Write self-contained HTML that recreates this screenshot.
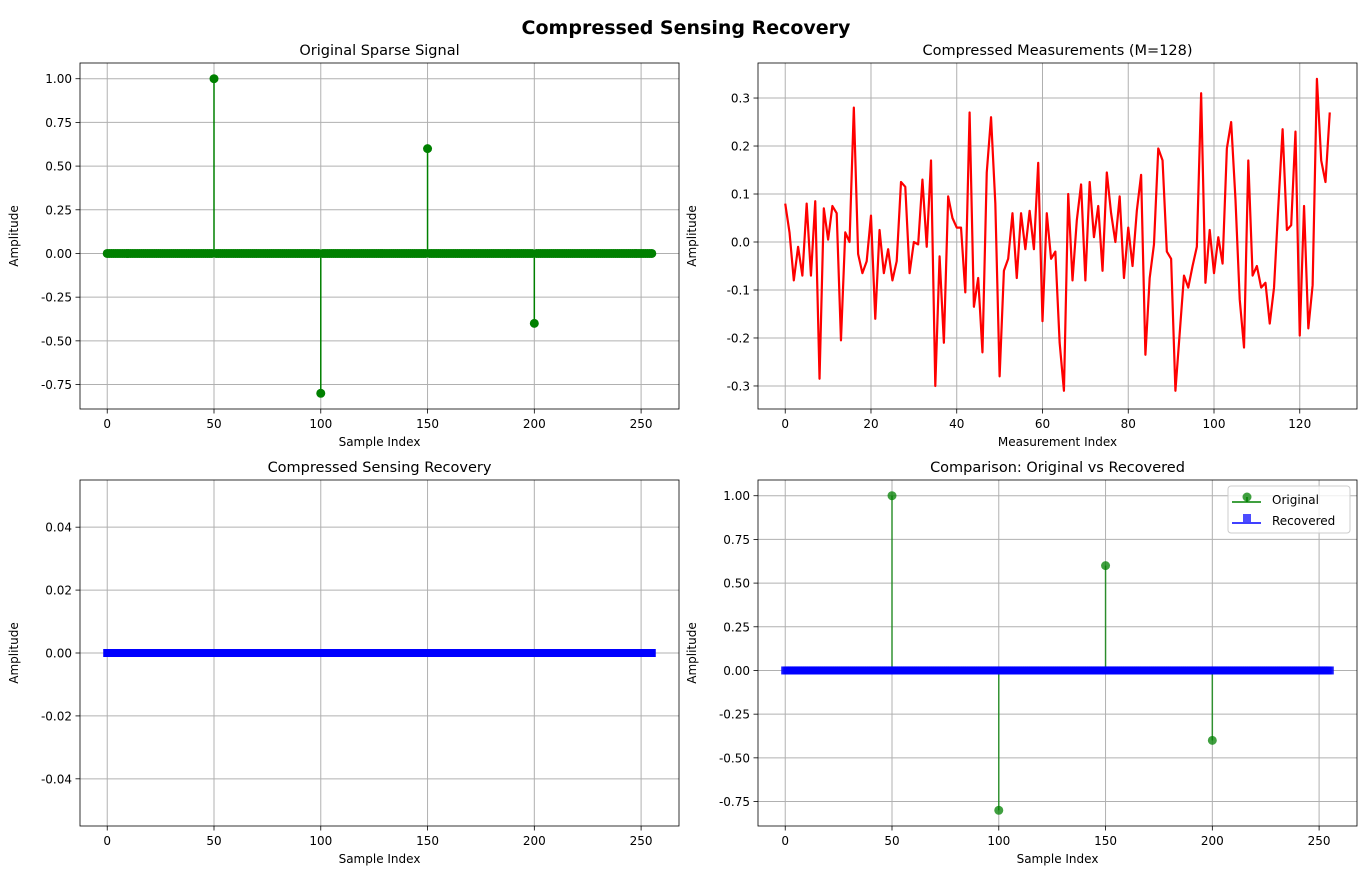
<!DOCTYPE html>
<html><head><meta charset="utf-8"><style>
body{margin:0;background:#fff;}
svg{display:block;font-family:"DejaVu Sans","Liberation Sans",sans-serif;}
</style></head><body>
<svg id="fig" width="1371" height="877" viewBox="0 0 1371 877" xmlns="http://www.w3.org/2000/svg">
<rect width="1371" height="877" fill="#fff"/>
<text x="686" y="34" text-anchor="middle" font-size="19" font-weight="bold">Compressed Sensing Recovery</text>
</svg>
<script>
const originalIdx = [50, 100, 150, 200];
const originalVals = [1.0, -0.8, 0.6, -0.4];
const signalLength = 256;
const recoveredVals = [0];
const measurements = [0.08,0.02,-0.08,-0.01,-0.07,0.08,-0.07,0.085,-0.285,0.07,0.005,0.075,0.06,-0.205,0.02,0,0.28,-0.025,-0.065,-0.04,0.055,-0.16,0.025,-0.065,-0.015,-0.08,-0.04,0.125,0.115,-0.065,0,-0.005,0.13,-0.01,0.17,-0.3,-0.03,-0.21,0.095,0.05,0.03,0.03,-0.105,0.27,-0.135,-0.075,-0.23,0.145,0.26,0.08,-0.28,-0.06,-0.035,0.06,-0.075,0.06,-0.015,0.065,-0.015,0.165,-0.165,0.06,-0.035,-0.02,-0.21,-0.31,0.1,-0.08,0.045,0.12,-0.08,0.125,0.01,0.075,-0.06,0.145,0.06,0,0.095,-0.075,0.03,-0.05,0.065,0.14,-0.235,-0.075,-0.005,0.195,0.17,-0.02,-0.035,-0.31,-0.19,-0.07,-0.095,-0.05,-0.01,0.31,-0.085,0.025,-0.065,0.01,-0.045,0.195,0.25,0.09,-0.12,-0.22,0.17,-0.07,-0.05,-0.095,-0.085,-0.17,-0.095,0.075,0.235,0.025,0.035,0.23,-0.195,0.075,-0.18,-0.09,0.34,0.17,0.125,0.27];
const ticksSig = [0,50,100,150,200,250];
const ticksMeas = [0,20,40,60,80,100,120];
const yTicksSig = [-0.75,-0.5,-0.25,0,0.25,0.5,0.75,1.0];
const yTicksMeas = [-0.3,-0.2,-0.1,0,0.1,0.2,0.3];
const yTicksRec = [-0.04,-0.02,0,0.02,0.04];

const NS="http://www.w3.org/2000/svg";
const fig=document.getElementById('fig');
function mk(tag,attrs,parent){const e=document.createElementNS(NS,tag);for(const k in attrs)e.setAttribute(k,attrs[k]);(parent||fig).appendChild(e);return e;}

function makeAxes(name,x0,y0,w,h,xmin,xmax,ymin,ymax,xt,yt,yfmt,title,xlabel){
  const g=mk('g',{});
  
  
  const sx=v=>x0+(v-xmin)/(xmax-xmin)*w;
  const sy=v=>y0+h-(v-ymin)/(ymax-ymin)*h;
  xt.forEach(t=>{const X=sx(t);
    const l=mk('line',{x1:X,x2:X,y1:y0,y2:y0+h,stroke:'#b0b0b0','stroke-width':1},g);
    
    
    mk('line',{x1:X,x2:X,y1:y0+h,y2:y0+h+4.5,stroke:'#000','stroke-width':0.8},g);
    const tx=mk('text',{x:X,y:y0+h+19,'text-anchor':'middle','font-size':12},g);tx.textContent=t;
    
    
  });
  yt.forEach(t=>{const Y=sy(t);
    const l=mk('line',{x1:x0,x2:x0+w,y1:Y,y2:Y,stroke:'#b0b0b0','stroke-width':1},g);
    
    
    mk('line',{x1:x0-4.5,x2:x0,y1:Y,y2:Y,stroke:'#000','stroke-width':0.8},g);
    const tx=mk('text',{x:x0-8,y:Y+4.5,'text-anchor':'end','font-size':12},g);tx.textContent=t.toFixed(yfmt);
    
    
  });
  const tt=mk('text',{x:x0+w/2,y:y0-8,'text-anchor':'middle','font-size':14.5},g);tt.textContent=title;
  
  
  const xl=mk('text',{x:x0+w/2,y:y0+h+37,'text-anchor':'middle','font-size':12},g);xl.textContent=xlabel;
  
  
  const cy=y0+h/2;
  const yl=mk('text',{x:0,y:0,'text-anchor':'middle','font-size':12,transform:`translate(18,${cy}) rotate(-90)`},g);yl.textContent='Amplitude';
  if(x0>700) yl.setAttribute('transform',`translate(696,${cy}) rotate(-90)`);
  
  
  const plot=mk('g',{},g);
  mk('rect',{x:x0,y:y0,width:w,height:h,fill:'none',stroke:'#000','stroke-width':0.8},g);
  return {sx,sy,plot,x0,y0,w,h};
}
const full=i=>originalIdx.indexOf(i)>=0?originalVals[originalIdx.indexOf(i)]:0;

const a1=makeAxes('original-signal-axes',80,63,599,346,-12.75,267.75,-0.89,1.09,ticksSig,yTicksSig,2,'Original Sparse Signal','Sample Index');
mk('line',{x1:a1.sx(0),x2:a1.sx(255),y1:a1.sy(0),y2:a1.sy(0),stroke:'green','stroke-width':1.5},a1.plot);
for(let i=0;i<signalLength;i++){const v=full(i);
  if(v!==0){const s=mk('line',{x1:a1.sx(i),x2:a1.sx(i),y1:a1.sy(0),y2:a1.sy(v),stroke:'green','stroke-width':1.5},a1.plot);
    
    }
  const c=mk('circle',{cx:a1.sx(i),cy:a1.sy(v),r:4.5,fill:'green'},a1.plot);
  
  
}
const a2=makeAxes('measurements-axes',758,63,599,346,-6.35,133.35,-0.348,0.373,ticksMeas,yTicksMeas,1,'Compressed Measurements (M=128)','Measurement Index');
const pl=mk('polyline',{points:measurements.map((v,i)=>a2.sx(i)+','+a2.sy(v)).join(' '),fill:'none',stroke:'red','stroke-width':2.2,'stroke-linejoin':'round'},a2.plot);


const a3=makeAxes('recovered-axes',80,480,599,346,-12.75,267.75,-0.055,0.055,ticksSig,yTicksRec,2,'Compressed Sensing Recovery','Sample Index');
for(let i=0;i<signalLength;i++){const v=recoveredVals[0];
  const r=mk('rect',{x:a3.sx(i)-4,y:a3.sy(v)-4,width:8,height:8,fill:'blue'},a3.plot);
  
  
}
const a4=makeAxes('comparison-axes',758,480,599,346,-12.75,267.75,-0.89,1.09,ticksSig,yTicksSig,2,'Comparison: Original vs Recovered','Sample Index');
for(let i=0;i<signalLength;i++){const v=full(i);
  if(v!==0){const s=mk('line',{x1:a4.sx(i),x2:a4.sx(i),y1:a4.sy(0),y2:a4.sy(v),stroke:'green','stroke-width':1.5,opacity:0.75},a4.plot);
    
    
    const c=mk('circle',{cx:a4.sx(i),cy:a4.sy(v),r:4.5,fill:'green',opacity:0.75},a4.plot);
    
    }
}
for(let i=0;i<signalLength;i++){
  const r=mk('rect',{x:a4.sx(i)-4,y:a4.sy(recoveredVals[0])-4,width:8,height:8,fill:'blue',opacity:0.9},a4.plot);
  
  
}
const lg=mk('g',{});


mk('rect',{x:1228,y:486,width:122,height:47,rx:3,fill:'#fff','fill-opacity':0.8,stroke:'#ccc'},lg);
mk('line',{x1:1232,x2:1261,y1:502,y2:502,stroke:'green','stroke-width':1.5},lg);
mk('line',{x1:1247,x2:1247,y1:497,y2:502,stroke:'green','stroke-width':1.5},lg);
mk('circle',{cx:1247,cy:497,r:4.5,fill:'green',opacity:0.75},lg);
const t1=mk('text',{x:1272,y:504,'font-size':12},lg);t1.textContent='Original';


mk('line',{x1:1232,x2:1261,y1:523,y2:523,stroke:'blue','stroke-width':1.5},lg);
mk('rect',{x:1243,y:514,width:8,height:8,fill:'blue',opacity:0.7},lg);
const t2=mk('text',{x:1272,y:525,'font-size':12},lg);t2.textContent='Recovered';


</script>
</body></html>
